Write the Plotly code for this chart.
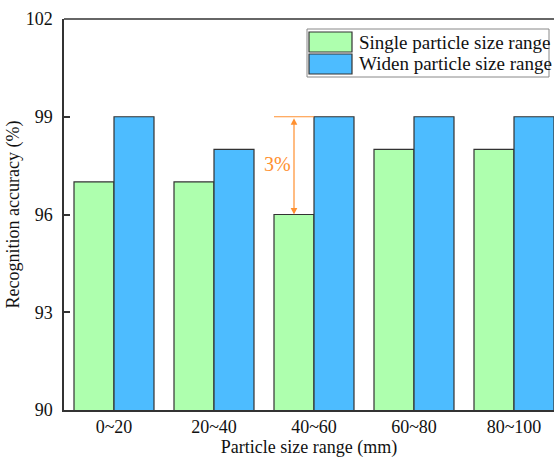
import plotly.graph_objects as go

categories = ["0~20", "20~40", "40~60", "60~80", "80~100"]
single_range = [97, 97, 96, 98, 98]
widen_range = [99, 98, 99, 99, 99]
series_names = ["Single particle size range", "Widen particle size range"]
y_ticks = [90, 93, 96, 99, 102]

GREEN = "#AEFFAE"
BLUE = "#4DBCFF"
ORANGE = "#FF9030"
EDGE = "#333333"
FONT = "Times New Roman, Liberation Serif, Times, serif"

fig = go.Figure()
fig.add_trace(go.Bar(x=list(range(len(categories))), y=single_range, name=series_names[0],
                     marker=dict(color=GREEN, line=dict(color=EDGE, width=1.2)),
                     base=0))
fig.add_trace(go.Bar(x=list(range(len(categories))), y=widen_range, name=series_names[1],
                     marker=dict(color=BLUE, line=dict(color=EDGE, width=1.2)),
                     base=0))

fig.update_layout(
    width=554, height=459,
    margin=dict(l=64, r=0, t=19, b=49),
    barmode="group", bargap=0.2, bargroupgap=0,
    plot_bgcolor="white", paper_bgcolor="white",
    showlegend=False,
    font=dict(family=FONT, size=18, color="#111111"),
    xaxis=dict(
        range=[-0.5, 4.4],
        tickmode="array", tickvals=list(range(len(categories))), ticktext=categories,
        showline=True, linecolor=EDGE, linewidth=1.5,
        ticks="", showgrid=False, zeroline=False,
        tickfont=dict(family=FONT, size=18, color="#111111"),
        title=dict(text="Particle size range (mm)", font=dict(family=FONT, size=18, color="#111111"), standoff=4),
    ),
    yaxis=dict(
        range=[90, 102],
        tickmode="array", tickvals=y_ticks,
        showline=True, linecolor=EDGE, linewidth=1.5,
        ticks="inside", ticklen=6, tickwidth=1.5, tickcolor=EDGE,
        showgrid=False, zeroline=False,
        tickfont=dict(family=FONT, size=18, color="#111111"),
        ticklabelstandoff=6,
        title=dict(text="Recognition accuracy (%)", font=dict(family=FONT, size=18, color="#111111"), standoff=1),
    ),
)

# top frame line
fig.add_shape(type="line", xref="paper", yref="paper", x0=0, x1=1, y0=1, y1=1,
              line=dict(color=EDGE, width=1.5))

# difference marker on the 40~60 group
gi = 2
left, right = gi - 0.4, gi
mid = (left + right) / 2
top_val, low_val = widen_range[gi], single_range[gi]
fig.add_shape(type="line", x0=left, x1=right, y0=top_val, y1=top_val,
              line=dict(color=ORANGE, width=1.2))
fig.add_annotation(x=mid, y=low_val, ax=mid, ay=top_val, xref="x", yref="y",
                   axref="x", ayref="y", showarrow=True, arrowhead=2, startarrowhead=2,
                   arrowside="end+start", arrowsize=1.1, arrowwidth=1.2,
                   arrowcolor=ORANGE, text="")
fig.add_annotation(x=gi - 0.37, y=(top_val + low_val) / 2 + 0.05, xref="x", yref="y",
                   text=f"{top_val - low_val}%", showarrow=False,
                   font=dict(family=FONT, size=20, color=ORANGE))

# legend drawn as boxed swatches
L, T, PW, PH = 64, 19, 554 - 64, 459 - 19 - 49
def px(x):
    return (x - L) / PW
def py(y):
    return 1 - (y - T) / PH

fig.add_shape(type="rect", xref="paper", yref="paper",
              x0=px(307), x1=px(549), y0=py(29), y1=py(77),
              line=dict(color="#888888", width=1), fillcolor="white")
for i, (name, col) in enumerate(zip(series_names, [GREEN, BLUE])):
    y0, y1 = 32 + i * 22, 52 + i * 22
    fig.add_shape(type="rect", xref="paper", yref="paper",
                  x0=px(309), x1=px(352), y0=py(y0), y1=py(y1),
                  line=dict(color=EDGE, width=1.2), fillcolor=col)
    fig.add_annotation(xref="paper", yref="paper", x=px(357), y=py((y0 + y1) / 2),
                       text=name, showarrow=False, xanchor="left", yanchor="middle",
                       font=dict(family=FONT, size=19, color="#111111"))

fig.write_html("out.html")
